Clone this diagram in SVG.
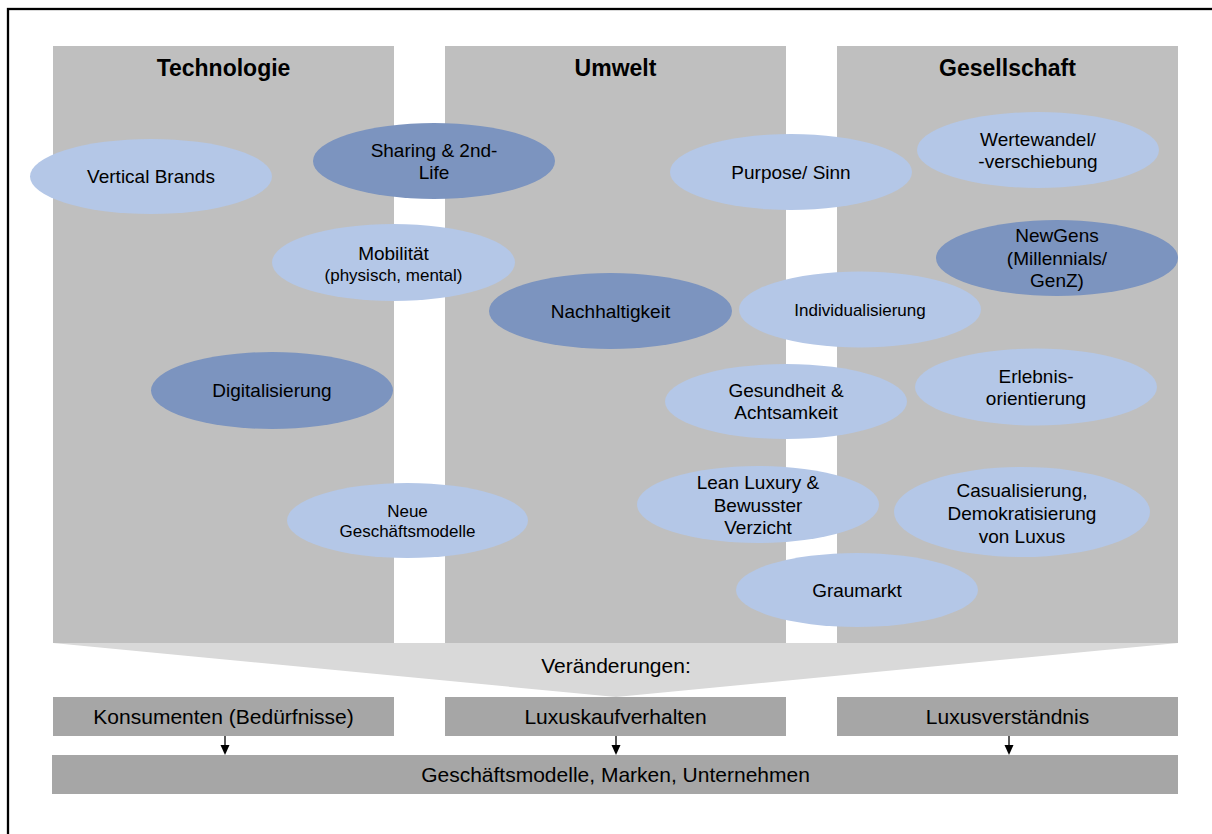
<svg xmlns="http://www.w3.org/2000/svg" width="1212" height="834" viewBox="0 0 1212 834">
<defs>
<style>
text{font-family:"Liberation Sans",Arial,sans-serif;fill:#000;text-anchor:middle}
.col{fill:#BFBFBF}
.hd{font-size:23px;font-weight:bold}
.lt{fill:#B4C7E7}
.dk{fill:#7C94BF}
.t{font-size:19px}
.s{font-size:17px}
.box{fill:#A6A6A6}
.b{font-size:21px}
.arr{stroke:#000;stroke-width:1.3;fill:none}
</style>
</defs>
<rect x="0" y="0" width="1212" height="834" fill="#fff"/>
<rect x="8" y="9" width="1300" height="900" fill="none" stroke="#000" stroke-width="2.3"/>

<g id="columns">
<rect class="col" x="53" y="46" width="341" height="597"/>
<rect class="col" x="445" y="46" width="341" height="597"/>
<rect class="col" x="837" y="46" width="341" height="597"/>
<text class="hd" x="223.5" y="76">Technologie</text>
<text class="hd" x="615.5" y="76">Umwelt</text>
<text class="hd" x="1007.5" y="76">Gesellschaft</text>
</g>

<g id="n-vertical-brands"><ellipse class="lt" cx="151" cy="176.5" rx="121" ry="37.5"/><text class="t" x="151" y="183">Vertical Brands</text></g>
<g id="n-sharing"><ellipse class="dk" cx="434" cy="161" rx="121" ry="38"/><text class="t" x="434" y="157">Sharing &amp; 2nd-</text><text class="t" x="434" y="179">Life</text></g>
<g id="n-mobilitaet"><ellipse class="lt" cx="393.5" cy="262.5" rx="121.5" ry="38.5"/><text class="t" x="393.5" y="260">Mobilität</text><text class="s" x="393.5" y="281">(physisch, mental)</text></g>
<g id="n-digitalisierung"><ellipse class="dk" cx="272" cy="390.5" rx="121" ry="38.5"/><text class="t" x="272" y="397">Digitalisierung</text></g>
<g id="n-neue-geschaeftsmodelle"><ellipse class="lt" cx="407.5" cy="520.5" rx="120.5" ry="37.5"/><text class="s" x="407.5" y="517">Neue</text><text class="s" x="407.5" y="537">Geschäftsmodelle</text></g>
<g id="n-nachhaltigkeit"><ellipse class="dk" cx="610.5" cy="311" rx="121.5" ry="38"/><text class="t" x="610.5" y="318">Nachhaltigkeit</text></g>
<g id="n-purpose"><ellipse class="lt" cx="791" cy="172" rx="121" ry="38"/><text class="t" x="791" y="179">Purpose/ Sinn</text></g>
<g id="n-wertewandel"><ellipse class="lt" cx="1038" cy="150" rx="121" ry="38"/><text class="t" x="1038" y="146">Wertewandel/</text><text class="t" x="1038" y="168">-verschiebung</text></g>
<g id="n-newgens"><ellipse class="dk" cx="1057" cy="258" rx="121" ry="38"/><text class="t" x="1057" y="242">NewGens</text><text class="t" x="1057" y="264.5">(Millennials/</text><text class="t" x="1057" y="287">GenZ)</text></g>
<g id="n-individualisierung"><ellipse class="lt" cx="860" cy="309.5" rx="121" ry="38"/><text class="s" x="860" y="316">Individualisierung</text></g>
<g id="n-gesundheit"><ellipse class="lt" cx="786" cy="401.5" rx="121" ry="37.5"/><text class="t" x="786" y="397">Gesundheit &amp;</text><text class="t" x="786" y="419">Achtsamkeit</text></g>
<g id="n-erlebnis"><ellipse class="lt" cx="1036" cy="387" rx="121" ry="38.5"/><text class="t" x="1036" y="383">Erlebnis-</text><text class="t" x="1036" y="405">orientierung</text></g>
<g id="n-lean-luxury"><ellipse class="lt" cx="758" cy="504.5" rx="121" ry="38.5"/><text class="t" x="758" y="489">Lean Luxury &amp;</text><text class="t" x="758" y="511.5">Bewusster</text><text class="t" x="758" y="534">Verzicht</text></g>
<g id="n-casualisierung"><ellipse class="lt" cx="1022" cy="512" rx="128" ry="45"/><text class="t" x="1022" y="496.5">Casualisierung,</text><text class="t" x="1022" y="519.5">Demokratisierung</text><text class="t" x="1022" y="542.5">von Luxus</text></g>
<g id="n-graumarkt"><ellipse class="lt" cx="857" cy="590" rx="121" ry="37"/><text class="t" x="857" y="596.5">Graumarkt</text></g>

<g id="n-veraenderungen"><polygon points="53,643 1178,643 616,697" fill="#D9D9D9"/><text class="b" x="616" y="673">Veränderungen:</text></g>

<g id="n-konsumenten"><rect class="box" x="53" y="697" width="341" height="39"/><text class="b" x="223.5" y="724">Konsumenten (Bedürfnisse)</text></g>
<g id="n-luxuskaufverhalten"><rect class="box" x="445" y="697" width="341" height="39"/><text class="b" x="615.5" y="724">Luxuskaufverhalten</text></g>
<g id="n-luxusverstaendnis"><rect class="box" x="837" y="697" width="341" height="39"/><text class="b" x="1007.5" y="724">Luxusverständnis</text></g>
<g id="n-geschaeftsmodelle"><rect class="box" x="52" y="755" width="1126" height="39"/><text class="b" x="615.5" y="782">Geschäftsmodelle, Marken, Unternehmen</text></g>

<g id="connectors">
<line class="arr" x1="225" y1="736" x2="225" y2="746"/><polygon points="220.5,745 229.5,745 225,755"/>
<line class="arr" x1="616" y1="736" x2="616" y2="746"/><polygon points="611.5,745 620.5,745 616,755"/>
<line class="arr" x1="1009" y1="736" x2="1009" y2="746"/><polygon points="1004.5,745 1013.5,745 1009,755"/>
</g>
</svg>
